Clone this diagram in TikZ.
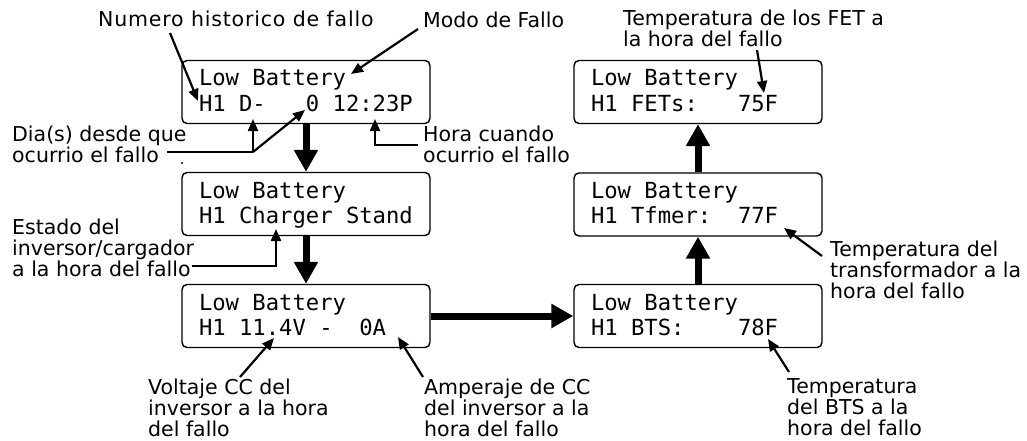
\documentclass[tikz,border=0pt]{standalone}
\usepackage{fontspec}
\setmainfont{DejaVu Sans}
\setmonofont{DejaVu Sans Mono}
\usetikzlibrary{arrows.meta}
\newcommand\ms{\hphantom{0}}
\newcommand\lcdtext[2]{\rule{0pt}{18.5pt}#1\\#2\rule[-5.5pt]{0pt}{5.5pt}}
\begin{document}
\begin{tikzpicture}[x=1pt,y=-1pt,
  lcd/.style={draw, line width=1.4pt, rounded corners=5pt, minimum width=248pt,
    minimum height=63pt, text width=214pt, inner xsep=17pt, inner ysep=0pt,
    align=left, font=\ttfamily\fontsize{22.2}{25}\selectfont},
  lbl/.style={anchor=west, inner sep=0pt, align=left, font=\fontsize{20.5}{21}\selectfont},
  big/.style={line width=7pt, -{Triangle[length=22pt,width=23pt]}},
  ptr/.style={line width=2.2pt, -{Triangle[length=12pt,width=10pt]}},
  wire/.style={line width=2.2pt}]
\useasboundingbox (0,0) rectangle (1027,441);
% display boxes
\node[lcd] (b1) at (306,92) {\lcdtext{Low\ms Battery}{H1\ms D-\ms\ms\ms 0\ms 12:23P}};
\node[lcd] (b2) at (306,204) {\lcdtext{Low\ms Battery}{H1\ms Charger\ms Stand}};
\node[lcd] (b3) at (306,316) {\lcdtext{Low\ms Battery}{H1\ms 11.4V\ms -\ms\ms 0A}};
\node[lcd] (b4) at (698,92) {\lcdtext{Low\ms Battery}{H1\ms FETs:\ms\ms\ms 75F}};
\node[lcd] (b5) at (698,204.5) {\lcdtext{Low\ms Battery}{H1\ms Tfmer:\ms\ms 77F}};
\node[lcd] (b6) at (698,316) {\lcdtext{Low\ms Battery}{H1\ms BTS:\ms\ms\ms\ms 78F}};
% flow arrows
\draw[big] (b1) -- (b2);
\draw[big] (b2) -- (b3);
\draw[big] (b3) -- (b6);
\draw[big] (b6) -- (b5);
\draw[big] (b5) -- (b4);
% labels
\node[lbl] (numero) at (98,19) {\addfontfeature{LetterSpace=4}Numero historico de fallo};
\node[lbl] (modo) at (423,20) {Modo de Fallo};
\node[lbl] (dia) at (12,144) {Dia(s) desde que\\ocurrio el fallo};
\node[lbl] (hora) at (423,144) {Hora cuando\\ocurrio el fallo};
\node[lbl] (estado) at (12,248) {Estado del\\inversor/cargador\\a la hora del fallo};
\node[lbl] (volt) at (148,408) {Voltaje CC del\\inversor a la hora\\del fallo};
\node[lbl] (amp) at (424,408) {Amperaje de CC\\del inversor a la\\hora del fallo};
\node[lbl] (fet) at (623,28) {Temperatura de los FET a\\la hora del fallo};
\node[lbl] (tfm) at (830,270) {Temperatura del\\transformador a la\\hora del fallo};
\node[lbl] (bts) at (787,407) {Temperatura\\del BTS a la\\hora del fallo};
% pointer coordinates
\coordinate (numS) at (170,33);   \coordinate (numT) at (198,101);
\coordinate (modS) at (418,29);   \coordinate (modT) at (351,74);
\coordinate (diaS) at (167,152);  \coordinate (diaJ) at (253,152);
\coordinate (diaT1) at (253,119); \coordinate (diaT2) at (305,110);
\coordinate (horS) at (418,145);  \coordinate (horJ) at (375,145);
\coordinate (horT) at (375,119);
\coordinate (estS) at (192,266);  \coordinate (estJ) at (276,266);
\coordinate (estT) at (276,229);
\coordinate (volS) at (240,377);  \coordinate (volT) at (274,338);
\coordinate (ampS) at (423,377);  \coordinate (ampT) at (398,337);
\coordinate (fetS) at (757,50);   \coordinate (fetT) at (764,93);
\coordinate (tfmS) at (822,256);  \coordinate (tfmT) at (784,228);
\coordinate (btsS) at (789,372);  \coordinate (btsT) at (768,339);
% pointers
\draw[ptr] (numS) -- (numT);
\draw[ptr] (modS) -- (modT);
\draw[wire] (diaS) -- (diaJ);
\draw[ptr] (diaJ) -- (diaT1);
\draw[ptr] (diaJ) -- (diaT2);
\draw[ptr] (horS) -- (horJ) -- (horT);
\draw[ptr] (estS) -- (estJ) -- (estT);
\draw[ptr] (volS) -- (volT);
\draw[ptr] (ampS) -- (ampT);
\draw[ptr] (fetS) -- (fetT);
\draw[ptr] (tfmS) -- (tfmT);
\draw[ptr] (btsS) -- (btsT);
% stray dot
\fill (182,163) circle (1.1pt);
\end{tikzpicture}
\end{document}
